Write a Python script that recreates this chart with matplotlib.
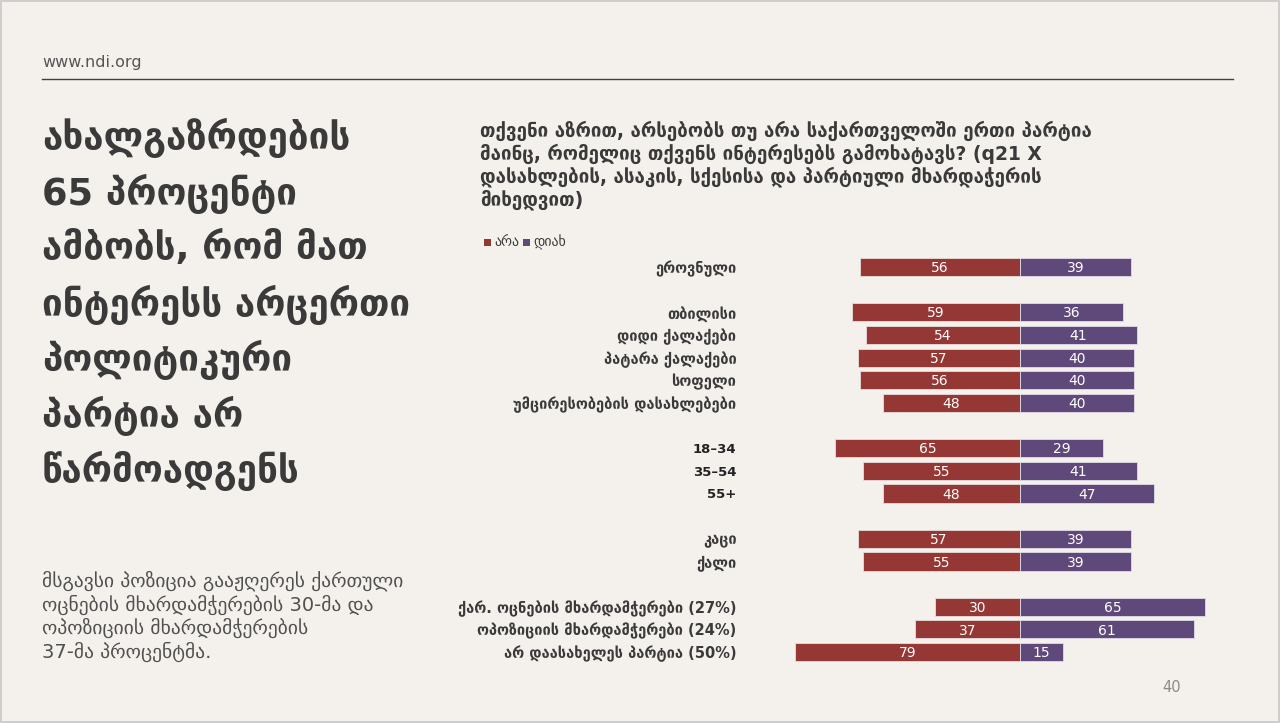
import matplotlib
matplotlib.use("Agg")
import matplotlib.pyplot as plt
from matplotlib.patches import Rectangle

categories = [
    "ეროვნული",
    "თბილისი", "დიდი ქალაქები", "პატარა ქალაქები", "სოფელი", "უმცირესობების დასახლებები",
    "18–34", "35–54", "55+",
    "კაცი", "ქალი",
    "ქარ. ოცნების მხარდამჭერები (27%)", "ოპოზიციის მხარდამჭერები (24%)", "არ დაასახელეს პარტია (50%)",
]
row_pos = [0, 2, 3, 4, 5, 6, 8, 9, 10, 12, 13, 15, 16, 17]
no_vals = [56, 59, 54, 57, 56, 48, 65, 55, 48, 57, 55, 30, 37, 79]
yes_vals = [39, 36, 41, 40, 40, 40, 29, 41, 47, 39, 39, 65, 61, 15]
series_names = ["არა", "დიახ"]

RED = "#953735"
PURPLE = "#5f497a"
BG = "#f4f1ec"
DARK = "#3a3a3a"

plt.rcParams['font.family'] = ['DejaVu Sans']
W, H = 1280, 723
fig = plt.figure(figsize=(W / 100, H / 100), dpi=100, facecolor=BG)

def fx(px):
    return px / W

def fy(py):
    return 1 - py / H

# frame
fig.patches.append(Rectangle((0.001, 0.001), 0.998, 0.997, transform=fig.transFigure,
                             fill=False, edgecolor="#c8c8c8", linewidth=1.2))

fig.text(fx(42), fy(62), "www.ndi.org", fontsize=11.5, color="#555555", va="center", ha="left")
fig.add_artist(plt.Line2D([fx(42), fx(1233)], [fy(79), fy(79)], transform=fig.transFigure,
                          color="#404040", linewidth=1.0))

headline = ["ახალგაზრდების", "65 პროცენტი", "ამბობს, რომ მათ", "ინტერესს არცერთი",
            "პოლიტიკური", "პარტია არ", "წარმოადგენს"]
for i, line in enumerate(headline):
    fig.text(fx(42), fy(138 + i * 55.5), line, fontsize=26.5, fontweight="bold",
             color=DARK, va="center", ha="left")

note = ["მსგავსი პოზიცია გააჟღერეს ქართული", "ოცნების მხარდამჭერების 30-მა და",
        "ოპოზიციის მხარდამჭერების", "37-მა პროცენტმა."]
for i, line in enumerate(note):
    fig.text(fx(42), fy(581 + i * 23.5), line, fontsize=14, color="#505050",
             va="center", ha="left")

question = ["თქვენი აზრით, არსებობს თუ არა საქართველოში ერთი პარტია",
            "მაინც, რომელიც თქვენს ინტერესებს გამოხატავს? (q21 X",
            "დასახლების, ასაკის, სქესისა და პარტიული მხარდაჭერის",
            "მიხედვით)"]
for i, line in enumerate(question):
    fig.text(fx(480), fy(131 + i * 23), line, fontsize=13.5, fontweight="bold",
             color=DARK, va="center", ha="left")

fig.text(fx(1172), fy(688), "40", fontsize=10.5, color="#8a8a8a", va="center", ha="center")

# chart axes
ppu = 2.85
ax_l, ax_r = 742, 1235
ax_t, ax_b = 255, 665
ax = fig.add_axes([fx(ax_l), fy(ax_b), fx(ax_r) - fx(ax_l), (ax_b - ax_t) / H])
ax.set_facecolor("none")
ax.set_xlim(-(1020 - ax_l) / ppu, (ax_r - 1020) / ppu)
row_px = 22.65
ax.set_ylim((ax_b - 267) / row_px, (ax_t - 267) / row_px)

neg = [-v for v in no_vals]
ax.barh(row_pos, neg, height=0.8, color=RED, edgecolor="#e8dcdc", linewidth=0.6,
        label=series_names[0])
ax.barh(row_pos, yes_vals, height=0.8, color=PURPLE, edgecolor="#e0dce8", linewidth=0.6,
        label=series_names[1])
for y, n, p in zip(row_pos, no_vals, yes_vals):
    ax.text(-n / 2, y + 0.05, str(n), color="white", fontsize=10, ha="center", va="center")
    ax.text(p / 2, y + 0.05, str(p), color="white", fontsize=10, ha="center", va="center")

ax.set_yticks(row_pos)
ax.set_yticklabels(categories, fontsize=10.5, fontweight="bold", color=DARK)
for lbl in ax.get_yticklabels():
    if lbl.get_text()[0].isdigit():
        lbl.set_fontsize(9.5)
        lbl.set_color("#222222")
ax.tick_params(axis="y", length=0, pad=4)
ax.tick_params(axis="x", length=0, labelbottom=False)
for s in ax.spines.values():
    s.set_visible(False)

# legend
for px, col, name in [(484, RED, series_names[0]), (523, PURPLE, series_names[1])]:
    fig.patches.append(Rectangle((fx(px), fy(246)), 7 / W, 7 / H, transform=fig.transFigure,
                                 facecolor=col, edgecolor="none"))
    fig.text(fx(px + 10), fy(242), name, fontsize=10, color=DARK, va="center", ha="left")

fig.savefig("out.png", dpi=100, facecolor=BG)
